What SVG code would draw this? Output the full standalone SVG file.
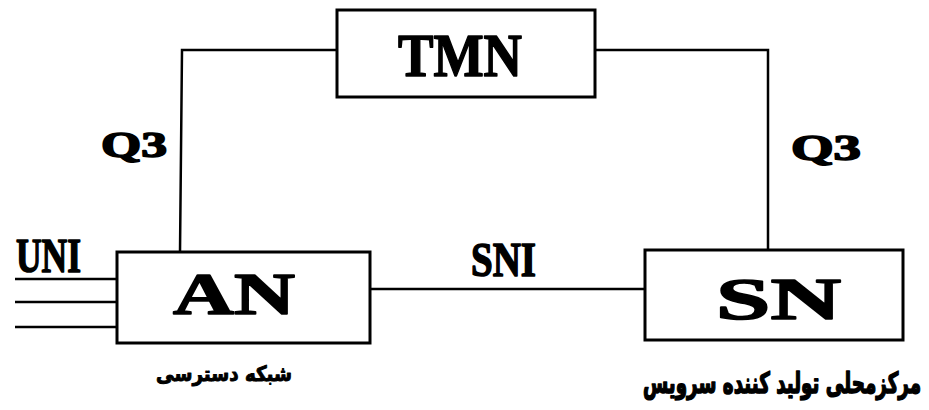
<svg xmlns="http://www.w3.org/2000/svg" width="929" height="410" viewBox="0 0 929 410">
  <style>
    .box { fill: #fff; stroke: #000; stroke-width: 3; }
    .wire { fill: none; stroke: #000; stroke-width: 2.5; }
    .lbl { font-family: "Liberation Serif", "DejaVu Serif", serif; font-weight: bold; fill: #000; stroke: #000; stroke-width: 1.6; stroke-linejoin: round; }
    .fa { font-family: "DejaVu Sans", "Noto Sans", sans-serif; font-weight: bold; fill: #000; stroke: #000; stroke-linejoin: round; }
  </style>
  <rect width="929" height="410" fill="#fff"/>

  <!-- connectors -->
  <g id="connectors">
    <polyline class="wire" points="180,252 182,50 337,50"/>
    <polyline class="wire" points="595,50 768,50 768,250"/>
    <line class="wire" x1="370" y1="289" x2="645" y2="289"/>
    <line class="wire" x1="15" y1="279" x2="117" y2="279"/>
    <line class="wire" x1="15" y1="302" x2="117" y2="302"/>
    <line class="wire" x1="15" y1="327" x2="117" y2="327"/>
  </g>

  <!-- interface labels -->
  <g id="labels">
    <text class="lbl" x="101" y="157" font-size="36" textLength="66" lengthAdjust="spacingAndGlyphs">Q3</text>
    <text class="lbl" x="791" y="160" font-size="36" textLength="70" lengthAdjust="spacingAndGlyphs">Q3</text>
    <text class="lbl" x="16" y="272" font-size="48" textLength="65" lengthAdjust="spacingAndGlyphs">UNI</text>
    <text class="lbl" x="471" y="276" font-size="48" textLength="65" lengthAdjust="spacingAndGlyphs">SNI</text>
  </g>

  <g id="tmn">
    <rect class="box" x="337" y="10" width="258" height="87"/>
    <text class="lbl" x="398" y="76" font-size="62" textLength="124" lengthAdjust="spacingAndGlyphs" stroke-width="2.2">TMN</text>
  </g>

  <g id="an">
    <rect class="box" x="117" y="252" width="253" height="91"/>
    <text class="lbl" x="173" y="314" font-size="60" textLength="122" lengthAdjust="spacingAndGlyphs" stroke-width="2">AN</text>
    <text class="fa" x="224" y="381" font-size="21" stroke-width="1" text-anchor="middle" textLength="136" lengthAdjust="spacingAndGlyphs">شبکه دسترسی</text>
  </g>

  <g id="sn">
    <rect class="box" x="645" y="250" width="258" height="90"/>
    <text class="lbl" x="716" y="319" font-size="60" textLength="125" lengthAdjust="spacingAndGlyphs" stroke-width="2">SN</text>
    <text class="fa" x="921" y="393" font-size="29" stroke-width="1.6" text-anchor="end" textLength="278" lengthAdjust="spacingAndGlyphs">مرکزمحلی تولید کننده سرویس</text>
  </g>
</svg>
